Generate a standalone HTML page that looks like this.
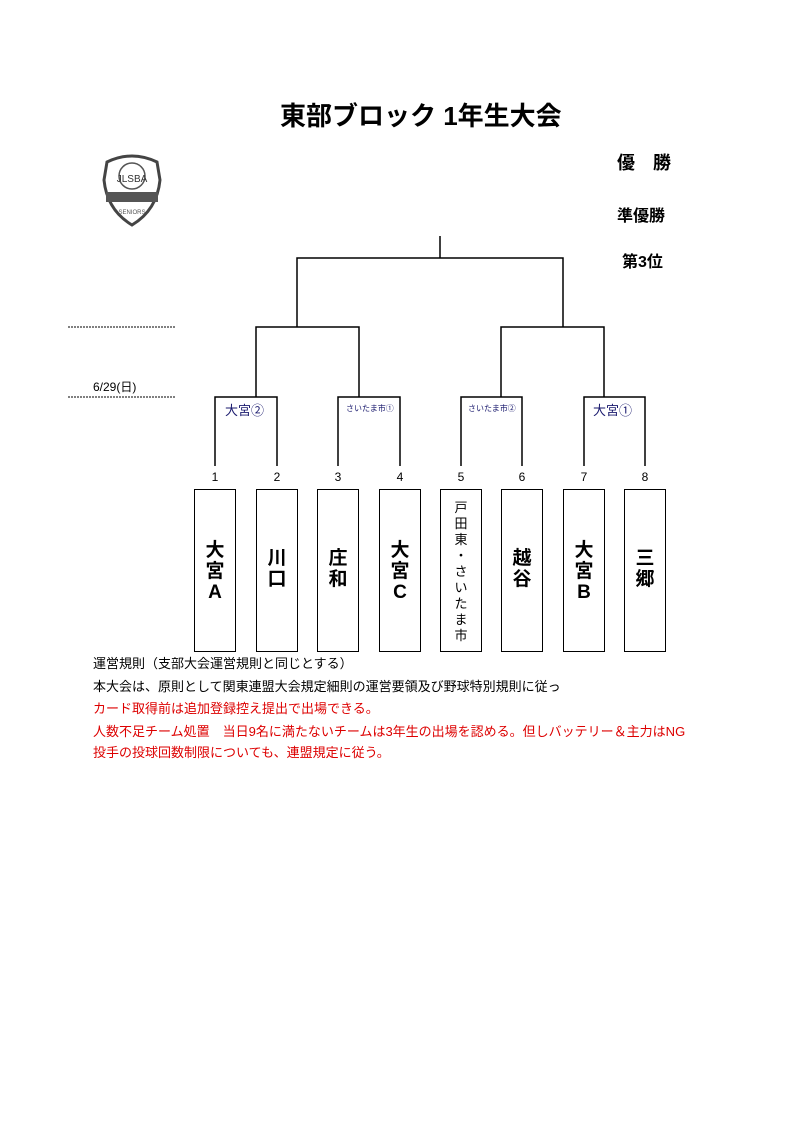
<!DOCTYPE html>
<html><head><meta charset="utf-8"><style>
body{margin:0;width:800px;height:1131px;background:#fff;position:relative;font-family:"Liberation Sans","Noto Sans CJK JP",sans-serif;overflow:hidden}
.a{position:absolute;white-space:nowrap}
.box{position:absolute;top:489px;width:42px;height:163px;border:1.5px solid #000;box-sizing:border-box}
.bt{position:absolute;left:0;right:0;text-align:center;font-weight:bold;font-size:19px;line-height:21px}
.n{position:absolute;top:470px;font-size:12px;width:20px;text-align:center}
.r{color:#d00}
</style></head><body>
<div class="a" style="left:280px;top:96px;font-size:26px;font-weight:bold">東部ブロック 1年生大会</div>
<div class="a" style="left:617px;top:149px;font-size:18px;font-weight:bold">優　勝</div>
<div class="a" style="left:617px;top:202px;font-size:16px;font-weight:bold">準優勝</div>
<div class="a" style="left:622px;top:248px;font-size:16px;font-weight:bold">第3位</div>
<svg class="a" style="left:0;top:0" width="800" height="700">
<g fill="none" stroke="#000" stroke-width="1.5">
<path d="M440 236V258M297 327V258H563V327"/>
<path d="M256 397V327H359V397M501 397V327H604V397"/>
<path d="M215 466V397H277V466M338 466V397H400V466M461 466V397H522V466M584 466V397H645V466"/>
</g>
<g stroke="#000" stroke-width="1" stroke-dasharray="2,1"><path d="M68 327H175M68 397H175"/></g>
<g transform="translate(132,190)">
<path d="M-25 -28 Q0 -40 25 -28 L28 -10 Q25 20 0 35 Q-25 20 -28 -10Z" fill="#fff" stroke="#444" stroke-width="3"/>
<circle cx="0" cy="-14" r="13" fill="none" stroke="#555" stroke-width="1.5"/>
<text x="0" y="-8" font-size="10" text-anchor="middle" fill="#333" font-family="Liberation Sans">JLSBA</text>
<rect x="-26" y="2" width="52" height="10" fill="#555"/>
<text x="0" y="24" font-size="6" text-anchor="middle" fill="#555" font-family="Liberation Sans">SENIORS</text>
</g>
</svg>
<div class="a" style="left:93px;top:378px;font-size:12px">6/29(日)</div>
<div class="a" style="left:225px;top:400px;font-size:13px;color:#1a1a6e">大宮②</div>
<div class="a" style="left:346px;top:403px;font-size:8px;color:#1a1a6e">さいたま市①</div>
<div class="a" style="left:468px;top:403px;font-size:8px;color:#1a1a6e">さいたま市②</div>
<div class="a" style="left:593px;top:400px;font-size:13px;color:#1a1a6e">大宮①</div>
<div class="n" style="left:205px">1</div><div class="n" style="left:267px">2</div><div class="n" style="left:328px">3</div><div class="n" style="left:390px">4</div><div class="n" style="left:451px">5</div><div class="n" style="left:512px">6</div><div class="n" style="left:574px">7</div><div class="n" style="left:635px">8</div>
<div class="box" style="left:194px"><div class="bt" style="top:50px">大<br>宮<br>A</div></div>
<div class="box" style="left:256px"><div class="bt" style="top:58px">川<br>口</div></div>
<div class="box" style="left:317px"><div class="bt" style="top:58px">庄<br>和</div></div>
<div class="box" style="left:379px"><div class="bt" style="top:50px">大<br>宮<br>C</div></div>
<div class="box" style="left:440px"><div class="bt" style="top:10px;font-weight:normal;font-size:13px;line-height:16px">戸<br>田<br>東<br>・<br>さ<br>い<br>た<br>ま<br>市</div></div>
<div class="box" style="left:501px"><div class="bt" style="top:58px">越<br>谷</div></div>
<div class="box" style="left:563px"><div class="bt" style="top:50px">大<br>宮<br>B</div></div>
<div class="box" style="left:624px"><div class="bt" style="top:58px">三<br>郷</div></div>
<div class="a" style="left:93px;top:653px;font-size:13px">運営規則（支部大会運営規則と同じとする）</div>
<div class="a" style="left:93px;top:676px;font-size:13px">本大会は、原則として関東連盟大会規定細則の運営要領及び野球特別規則に従っ</div>
<div class="a r" style="left:93px;top:698px;font-size:13px">カード取得前は追加登録控え提出で出場できる。</div>
<div class="a r" style="left:93px;top:721px;font-size:13px">人数不足チーム処置　当日9名に満たないチームは3年生の出場を認める。但しバッテリー＆主力はNG</div>
<div class="a r" style="left:93px;top:742px;font-size:13px">投手の投球回数制限についても、連盟規定に従う。</div>
</body></html>
